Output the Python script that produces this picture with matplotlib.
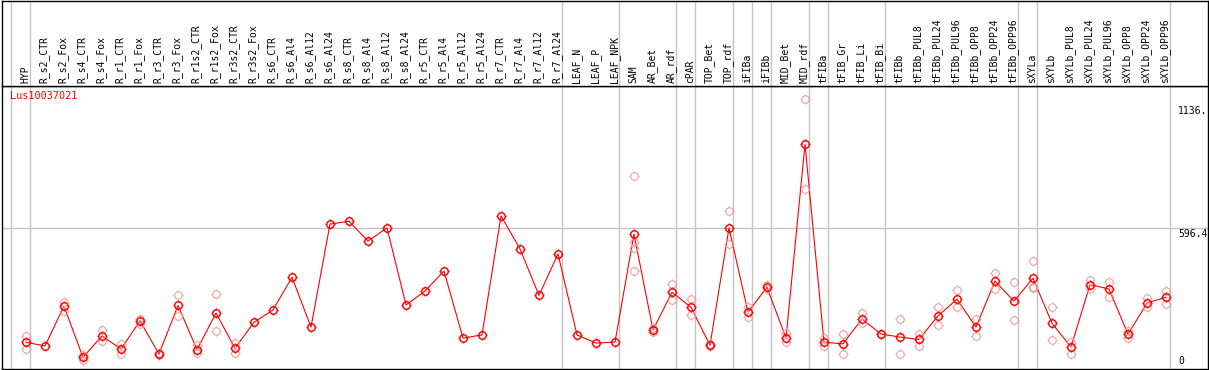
import matplotlib
matplotlib.use("Agg")
import matplotlib.pyplot as plt
from matplotlib.path import Path

# sample names along the top
samples = [
    "HYP", "R_s2_CTR", "R_s2_Fox", "R_s4_CTR", "R_s4_Fox", "R_r1_CTR", "R_r1_Fox",
    "R_r3_CTR", "R_r3_Fox", "R_r1s2_CTR", "R_r1s2_Fox", "R_r3s2_CTR", "R_r3s2_Fox",
    "R_s6_CTR", "R_s6_Al4", "R_s6_Al12", "R_s6_Al24", "R_s8_CTR", "R_s8_Al4",
    "R_s8_Al12", "R_s8_Al24", "R_r5_CTR", "R_r5_Al4", "R_r5_Al12", "R_r5_Al24",
    "R_r7_CTR", "R_r7_Al4", "R_r7_Al12", "R_r7_Al24", "LEAF_N", "LEAF_P", "LEAF_NPK",
    "SAM", "AR_Bet", "AR_rdf", "cPAR", "TOP_Bet", "TOP_rdf", "iFIBa", "iFIBb",
    "MID_Bet", "MID_rdf", "tFIBa", "tFIB_Gr", "tFIB_Li", "tFIB_Bi", "tFIBb",
    "tFIBb_PUL8", "tFIBb_PUL24", "tFIBb_PUL96", "tFIBb_OPP8", "tFIBb_OPP24", "tFIBb_OPP96",
    "sXYLa", "sXYLb", "sXYLb_PUL8", "sXYLb_PUL24", "sXYLb_PUL96", "sXYLb_OPP8",
    "sXYLb_OPP24", "sXYLb_OPP96",
]

# mean expression per sample
means = [
    116, 101, 268, 53, 143, 88, 206, 67, 271, 85, 239, 91, 200,
    252, 389, 180, 612, 624, 541, 596, 273, 331, 415, 134, 147,
    646, 508, 313, 487, 147, 113, 117,
    570, 168, 326, 263, 104, 596, 243, 347, 134, 947,
    116, 110, 214, 151, 138,
    128, 227, 297, 180, 373, 289,
    385, 196, 96, 358, 340, 150, 281, 305,
]

# individual replicates (empty where none shown)
replicates = [
    [143, 87], [], [286, 249], [62, 44], [168, 120], [108, 66], [215, 193],
    [70, 64], [313, 225], [106, 70], [318, 162], [112, 71], [],
    [], [], [], [], [], [], [], [], [], [], [], [],
    [], [], [], [], [], [], [],
    [812, 536, 510, 414], [176, 160], [361, 294], [297, 229], [100, 108],
    [665, 527], [266, 221], [358, 339], [156, 116], [1136, 759],
    [135, 102], [150, 66], [239, 196], [149, 153], [214, 66],
    [151, 99], [264, 190], [336, 264], [214, 143], [407, 339], [368, 210],
    [457, 349, 344], [263, 125], [119, 68], [378, 340], [370, 307],
    [164, 133], [302, 263], [331, 276],
]

# last sample index of each group (separator lines)
group_ends = [-1, 0, 28, 31, 34, 35, 37, 38, 39, 41, 42, 45, 52, 53, 60]

gene = "Lus10037021"
y_max = 1136
y_ref = 596.4

W, H = 1209, 370
STEP = 19.0
X0 = 26.0
PX_PER_UNIT = 0.2384
ZERO_Y = 370.0
mono = "DejaVu Sans Mono"
grey = "#c4c4c4"
pink = "#f09a9a"


def box(x0, y0, x1, y1):
    return [x0 / W, 1 - y1 / H, (x1 - x0) / W, (y1 - y0) / H]


# four short ticks around a circle (circle drawn separately with 'o')
TICK = 1.4
tick_marker = Path([(0, 1), (0, TICK), (0, -1), (0, -TICK),
                    (1, 0), (TICK, 0), (-1, 0), (-TICK, 0)],
                   [Path.MOVETO, Path.LINETO] * 4)
MS = 5.4  # circle diameter in points


def tick_circles(ax, xs, ys, color, lw, z):
    ax.plot(xs, ys, ls="none", marker="o", ms=MS, mfc="none", mec=color, mew=lw, zorder=z)
    ax.plot(xs, ys, ls="none", marker=tick_marker, ms=MS * TICK, mfc="none",
            mec=color, mew=lw, zorder=z)


fig = plt.figure(figsize=(W / 100, H / 100), dpi=100)
ax = fig.add_axes(box(1.5, 85.5, 1207.5, 369))
hd = fig.add_axes(box(1.5, 0.5, 1207.5, 85.5))

xlim = ((1.5 - X0) / STEP, (1207.5 - X0) / STEP)
ax.set_xlim(*xlim)
hd.set_xlim(*xlim)
ax.set_ylim((ZERO_Y - 369) / PX_PER_UNIT, (ZERO_Y - 85.5) / PX_PER_UNIT)
hd.set_ylim(0, 1)

for a in (ax, hd):
    a.set_xticks([])
    a.set_yticks([])
    for s in a.spines.values():
        s.set_linewidth(1.0)
        s.set_color("black")
    for g in group_ends:
        a.axvline(g + 0.22, color=grey, lw=1.0, zorder=1)

ax.axhline(y_ref, color=grey, lw=1.0, zorder=1)

for i, name in enumerate(samples):
    hd.text(i - 0.05, 0.03, name, rotation=90, ha="center", va="bottom",
            fontsize=7, family=mono)

x = list(range(len(means)))
ax.plot(x, means, color="red", lw=0.8, zorder=2)
for i, reps in enumerate(replicates):
    if reps:
        tick_circles(ax, [i] * len(reps), reps, pink, 0.75, 3)
tick_circles(ax, x, means, "red", 1.05, 4)

ax.text((10 - 1.5) / 1206, 1 - 10.5 / 283.5, gene, transform=ax.transAxes,
        color="red", fontsize=7.3, family=mono, ha="left", va="center")

lab_x = (1178 - 1.5) / 1206
trans = ax.get_yaxis_transform()
ax.annotate("1136.", xy=(lab_x, y_max), xycoords=trans, xytext=(0, -5),
            textcoords="offset points", ha="left", va="top", fontsize=7, family=mono)
ax.annotate("596.4", xy=(lab_x, y_ref), xycoords=trans, xytext=(0, -0.5),
            textcoords="offset points", ha="left", va="top", fontsize=7, family=mono)
ax.annotate("0", xy=(lab_x, 0), xycoords=trans, xytext=(0, 3),
            textcoords="offset points", ha="left", va="bottom", fontsize=7, family=mono)

fig.savefig("out.png", dpi=100)
